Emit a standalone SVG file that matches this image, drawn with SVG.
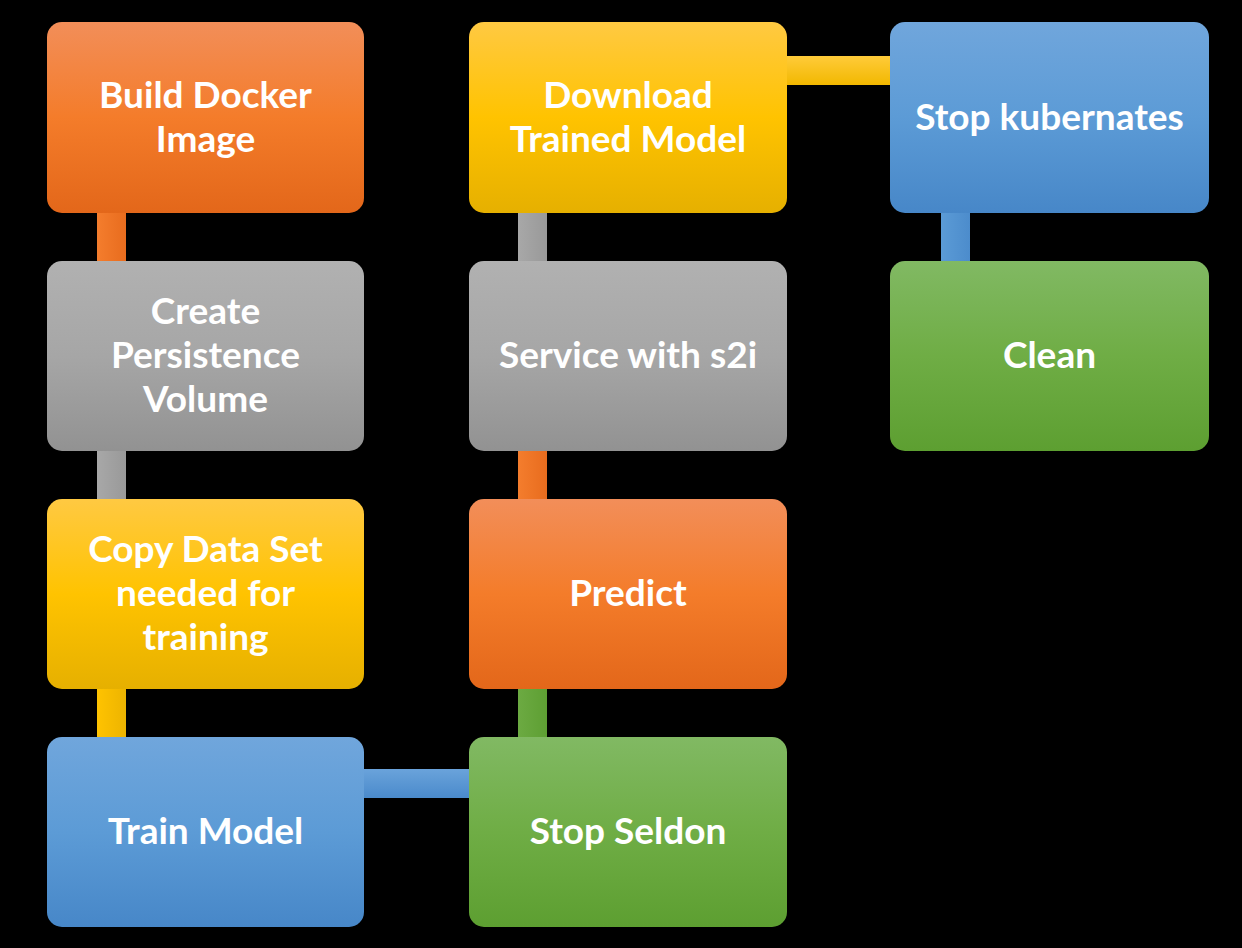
<svg xmlns="http://www.w3.org/2000/svg" width="1242" height="948" viewBox="0 0 1242 948">
<defs>
<linearGradient id="gOr" x1="0" y1="0" x2="0" y2="1"><stop offset="0" stop-color="#F28E59"/><stop offset="0.5" stop-color="#F47C2A"/><stop offset="1" stop-color="#E3671A"/></linearGradient>
<linearGradient id="gGr" x1="0" y1="0" x2="0" y2="1"><stop offset="0" stop-color="#B1B1B1"/><stop offset="0.5" stop-color="#A6A6A6"/><stop offset="1" stop-color="#929292"/></linearGradient>
<linearGradient id="gGo" x1="0" y1="0" x2="0" y2="1"><stop offset="0" stop-color="#FFC942"/><stop offset="0.5" stop-color="#FFC300"/><stop offset="1" stop-color="#E6B000"/></linearGradient>
<linearGradient id="gBl" x1="0" y1="0" x2="0" y2="1"><stop offset="0" stop-color="#70A6DC"/><stop offset="0.5" stop-color="#5C9BD6"/><stop offset="1" stop-color="#4787C8"/></linearGradient>
<linearGradient id="gGn" x1="0" y1="0" x2="0" y2="1"><stop offset="0" stop-color="#81B963"/><stop offset="0.5" stop-color="#6FAD45"/><stop offset="1" stop-color="#5D9F31"/></linearGradient>
<linearGradient id="hOr" x1="0" y1="0" x2="1" y2="0"><stop offset="0" stop-color="#F47D2D"/><stop offset="1" stop-color="#E86C1E"/></linearGradient>
<linearGradient id="hGr" x1="0" y1="0" x2="1" y2="0"><stop offset="0" stop-color="#A8A8A8"/><stop offset="1" stop-color="#999999"/></linearGradient>
<linearGradient id="hGo" x1="0" y1="0" x2="1" y2="0"><stop offset="0" stop-color="#FFC300"/><stop offset="1" stop-color="#EDB400"/></linearGradient>
<linearGradient id="hGn" x1="0" y1="0" x2="1" y2="0"><stop offset="0" stop-color="#6CAA42"/><stop offset="1" stop-color="#5E9F33"/></linearGradient>
<linearGradient id="vBl" x1="0" y1="0" x2="0" y2="1"><stop offset="0" stop-color="#6AA3DB"/><stop offset="1" stop-color="#4A8ACB"/></linearGradient>
<linearGradient id="vGo" x1="0" y1="0" x2="0" y2="1"><stop offset="0" stop-color="#FFCB3A"/><stop offset="1" stop-color="#F2B800"/></linearGradient>
<linearGradient id="hBl" x1="0" y1="0" x2="1" y2="0"><stop offset="0" stop-color="#5B9BD6"/><stop offset="1" stop-color="#4C8CCC"/></linearGradient>
</defs>
<style>
.box{stroke:none}
.t{font-family:"Lato","Open Sans","Liberation Sans",sans-serif;font-weight:bold;font-size:37px;fill:#FFFFFF;text-anchor:middle}
</style>
<rect x="0" y="0" width="1242" height="948" fill="#000000"/>
<g id="connectors">
<rect x="97" y="210" width="29" height="54" fill="url(#hOr)"/>
<rect x="97" y="448" width="29" height="54" fill="url(#hGr)"/>
<rect x="97" y="686" width="29" height="54" fill="url(#hGo)"/>
<rect x="361" y="769" width="111" height="29" fill="url(#vBl)"/>
<rect x="518" y="686" width="29" height="54" fill="url(#hGn)"/>
<rect x="518" y="448" width="29" height="54" fill="url(#hOr)"/>
<rect x="518" y="210" width="29" height="54" fill="url(#hGr)"/>
<rect x="784" y="56" width="109" height="29" fill="url(#vGo)"/>
<rect x="941" y="210" width="29" height="54" fill="url(#hBl)"/>
</g>
<g id="n1"><rect class="box" x="47" y="22" width="317" height="191" rx="15" fill="url(#gOr)"/><text class="t" x="205.5" y="108">Build Docker</text><text class="t" x="205.5" y="152">Image</text></g>
<g id="n2"><rect class="box" x="47" y="261" width="317" height="190" rx="15" fill="url(#gGr)"/><text class="t" x="205.5" y="324">Create</text><text class="t" x="205.5" y="368">Persistence</text><text class="t" x="205.5" y="412">Volume</text></g>
<g id="n3"><rect class="box" x="47" y="499" width="317" height="190" rx="15" fill="url(#gGo)"/><text class="t" x="205.5" y="562">Copy Data Set</text><text class="t" x="205.5" y="606">needed for</text><text class="t" x="205.5" y="650">training</text></g>
<g id="n4"><rect class="box" x="47" y="737" width="317" height="190" rx="15" fill="url(#gBl)"/><text class="t" x="205.5" y="844">Train Model</text></g>
<g id="n5"><rect class="box" x="469" y="737" width="318" height="190" rx="15" fill="url(#gGn)"/><text class="t" x="628" y="844">Stop Seldon</text></g>
<g id="n6"><rect class="box" x="469" y="499" width="318" height="190" rx="15" fill="url(#gOr)"/><text class="t" x="628" y="606">Predict</text></g>
<g id="n7"><rect class="box" x="469" y="261" width="318" height="190" rx="15" fill="url(#gGr)"/><text class="t" x="628" y="368">Service with s2i</text></g>
<g id="n8"><rect class="box" x="469" y="22" width="318" height="191" rx="15" fill="url(#gGo)"/><text class="t" x="628" y="108">Download</text><text class="t" x="628" y="152">Trained Model</text></g>
<g id="n9"><rect class="box" x="890" y="22" width="319" height="191" rx="15" fill="url(#gBl)"/><text class="t" x="1049.5" y="130">Stop kubernates</text></g>
<g id="n10"><rect class="box" x="890" y="261" width="319" height="190" rx="15" fill="url(#gGn)"/><text class="t" x="1049.5" y="368">Clean</text></g>
</svg>
